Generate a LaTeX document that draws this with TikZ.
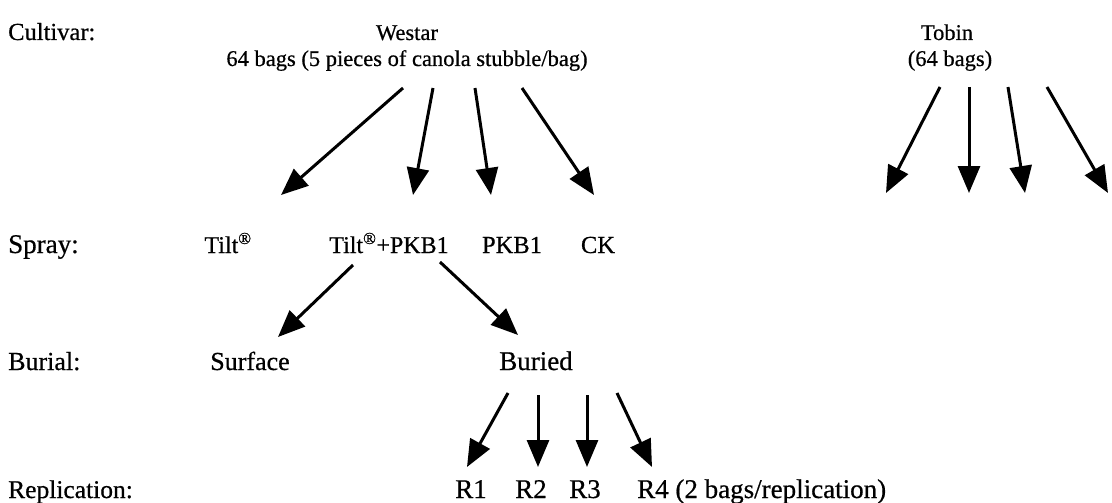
\documentclass[tikz,border=0pt]{standalone}
\usepackage{fontspec}
\setmainfont{Liberation Serif}[FakeBold=0.6]
\usetikzlibrary{arrows.meta}
\tikzset{
  txt/.style={inner sep=0pt, anchor=base, font=\fontsize{25}{28}\selectfont},
  toptxt/.style={txt, font=\fontsize{22.5}{26}\selectfont},
  lbl/.style={txt, anchor=base west},
  arr/.style={line width=3pt, -{Triangle[length=27pt,width=22pt]}}
}
\begin{document}
\begin{tikzpicture}[x=1pt,y=-1pt]
\useasboundingbox (0,0) rectangle (1112,503);
% row labels
\node[lbl, font=\fontsize{24.5}{28}\selectfont] (lcult) at (8,40) {Cultivar:};
\node[lbl, font=\fontsize{27}{30}\selectfont] (lspray) at (8,253) {Spray:};
\node[lbl, font=\fontsize{26}{30}\selectfont] (lburial) at (8,370) {Burial:};
\node[lbl, font=\fontsize{25.5}{30}\selectfont] (lrep) at (8,498) {Replication:};
% cultivar
\node[toptxt] (westar) at (407,40) {Westar};
\node[toptxt] (westarb) at (407,66) {64 bags (5 pieces of canola stubble/bag)};
\node[toptxt] (tobin) at (947,40) {Tobin};
\node[toptxt] (tobinb) at (950,66) {(64 bags)};
% spray
\node[txt, font=\fontsize{24}{28}\selectfont] (tilt) at (228,253) {Tilt\textsuperscript{®}};
\node[txt, font=\fontsize{24}{28}\selectfont] (tiltp) at (389,253) {Tilt\textsuperscript{®}+PKB1};
\node[txt, font=\fontsize{24.5}{28}\selectfont] (pkb) at (512,253) {PKB1};
\node[txt, font=\fontsize{24.5}{28}\selectfont] (ck) at (598,253) {CK};
% burial
\node[txt, font=\fontsize{26}{30}\selectfont] (surf) at (250,370) {Surface};
\node[txt, font=\fontsize{27}{30}\selectfont] (bur) at (536,370) {Buried};
% replication
\node[txt, font=\fontsize{27}{30}\selectfont] (r1) at (471,498) {R1};
\node[txt, font=\fontsize{27}{30}\selectfont] (r2) at (531,498) {R2};
\node[txt, font=\fontsize{27}{30}\selectfont] (r3) at (585,498) {R3};
\node[lbl, font=\fontsize{27}{30}\selectfont] (r4) at (637,498) {R4 (2 bags/replication)};
% arrow coordinates
\coordinate (w1s) at (403,88); \coordinate (w1e) at (281,195);
\coordinate (w2s) at (433,88); \coordinate (w2e) at (413,195);
\coordinate (w3s) at (475,88); \coordinate (w3e) at (491,195);
\coordinate (w4s) at (522,88); \coordinate (w4e) at (594,195);
\coordinate (t1s) at (940,87); \coordinate (t1e) at (886,193);
\coordinate (t2s) at (969,87); \coordinate (t2e) at (969,193);
\coordinate (t3s) at (1008,87); \coordinate (t3e) at (1025,193);
\coordinate (t4s) at (1047,87); \coordinate (t4e) at (1108,193);
\coordinate (s1s) at (353,265); \coordinate (s1e) at (278,337);
\coordinate (s2s) at (440,262); \coordinate (s2e) at (518,335);
\coordinate (b1s) at (508,393); \coordinate (b1e) at (467,467);
\coordinate (b2s) at (538,395); \coordinate (b2e) at (538,467);
\coordinate (b3s) at (587,395); \coordinate (b3e) at (587,467);
\coordinate (b4s) at (617,393); \coordinate (b4e) at (652,467);
\foreach \a in {w1,w2,w3,w4,t1,t2,t3,t4,s1,s2,b1,b2,b3,b4}
  \draw[arr] (\a s) -- (\a e);
\end{tikzpicture}
\end{document}
